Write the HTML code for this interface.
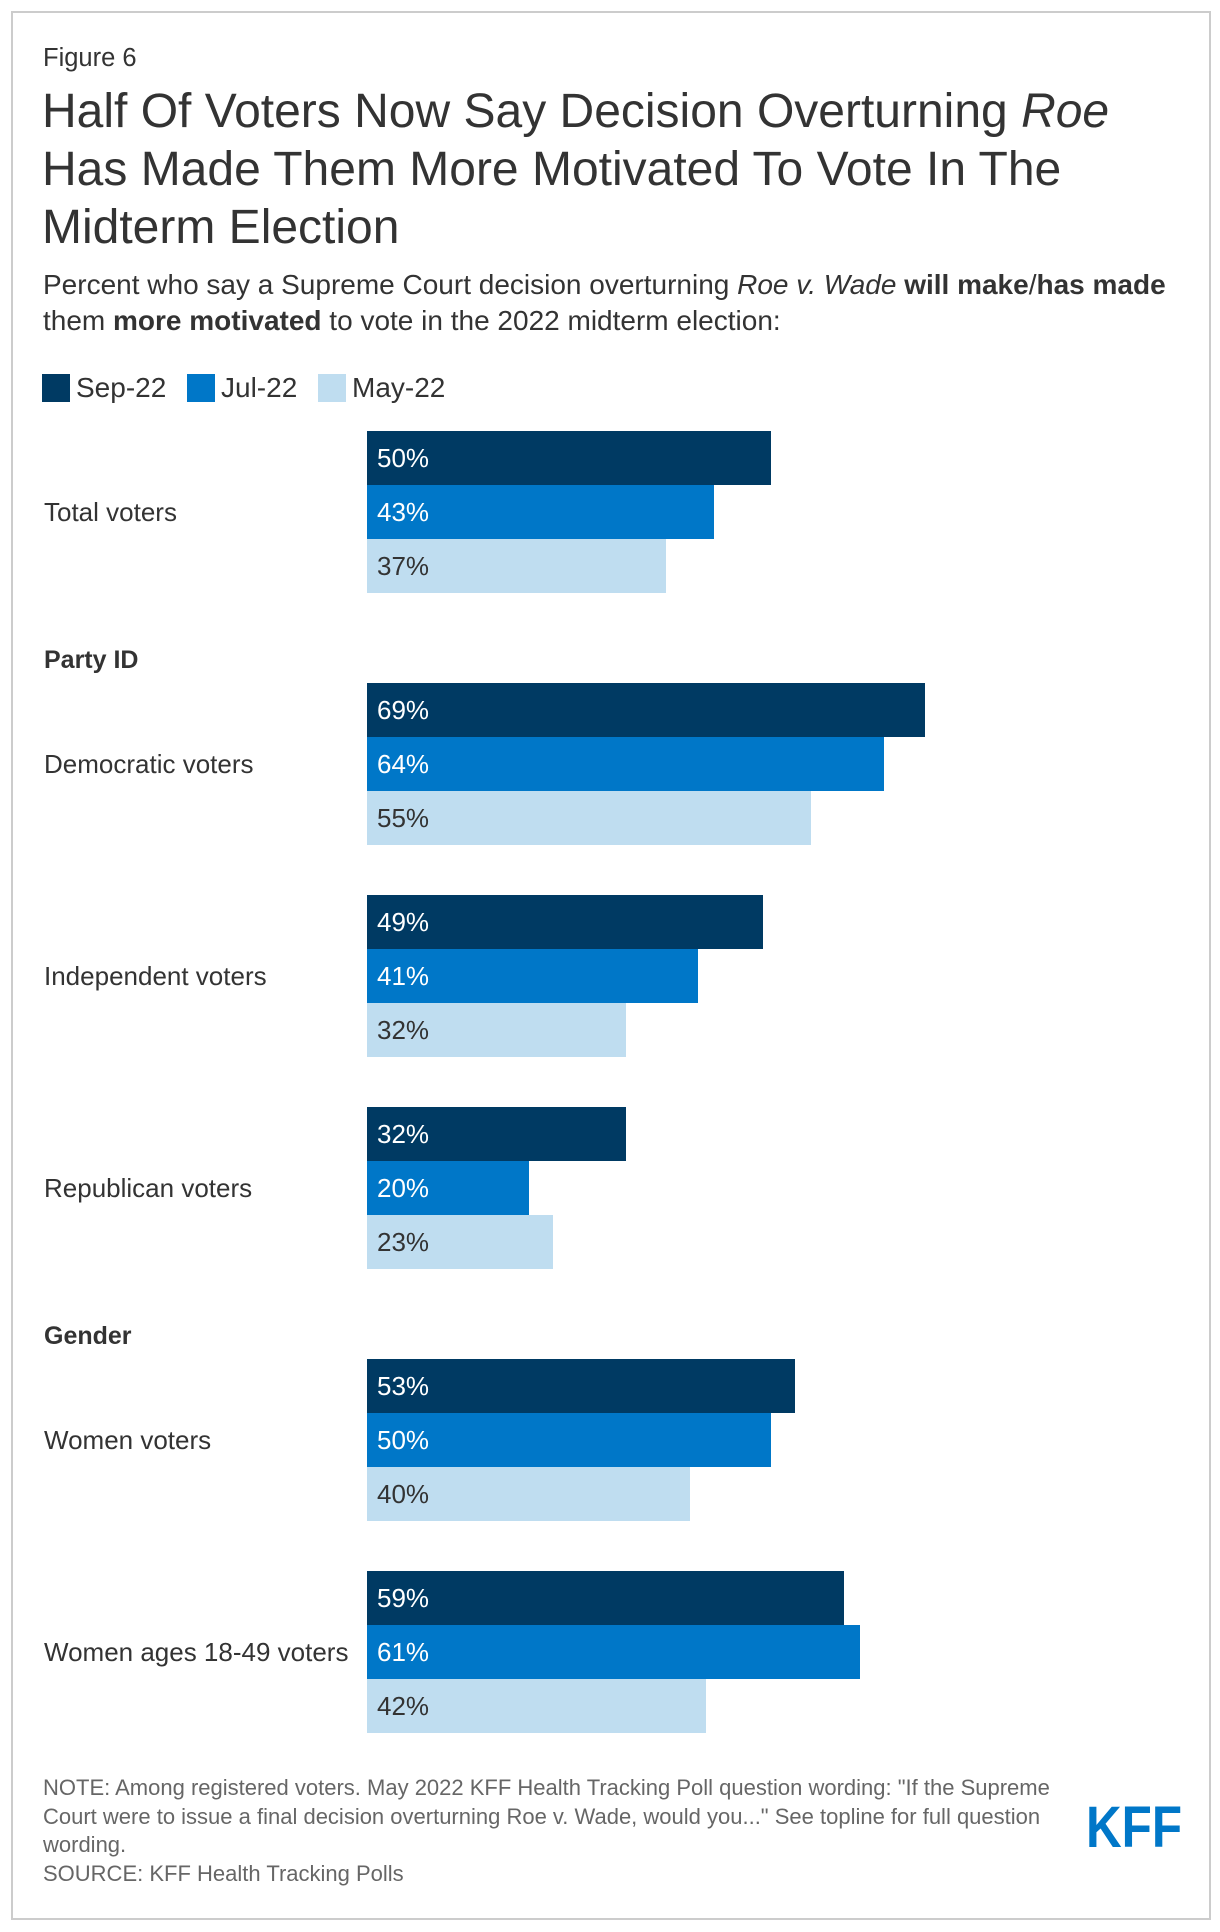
<!DOCTYPE html>
<html><head><meta charset="utf-8"><style>
body{margin:0;background:#fff;font-family:"Liberation Sans",Arial,sans-serif;color:#333;}
#frame{position:absolute;left:11px;top:11px;width:1196px;height:1905px;border:2px solid #ccc;}
.abs{position:absolute;white-space:nowrap;}
</style></head><body>
<div id="frame"></div>
<div class="abs" style="left:43px;top:44px;font-size:25.5px;">Figure 6</div>
<div class="abs" style="left:42px;top:83px;font-size:48px;line-height:58px;">Half Of Voters Now Say Decision Overturning <i>Roe</i><br>Has Made Them More Motivated To Vote In The<br>Midterm Election</div>
<div class="abs" style="left:43px;top:267px;font-size:28px;line-height:36px;">Percent who say a Supreme Court decision overturning <i>Roe v. Wade</i> <b>will make</b>/<b>has made</b><br>them <b>more motivated</b> to vote in the 2022 midterm election:</div>
<div>
<div class="abs" style="left:42px;top:374px;height:28px;font-size:28px;line-height:28px;"><span style="display:inline-block;width:28px;height:28px;background:#003a63;vertical-align:top;margin-right:6px;"></span>Sep-22</div>
<div class="abs" style="left:187px;top:374px;height:28px;font-size:28px;line-height:28px;"><span style="display:inline-block;width:28px;height:28px;background:#0077c8;vertical-align:top;margin-right:6px;"></span>Jul-22</div>
<div class="abs" style="left:318px;top:374px;height:28px;font-size:28px;line-height:28px;"><span style="display:inline-block;width:28px;height:28px;background:#bfddf0;vertical-align:top;margin-right:6px;"></span>May-22</div>
</div>
<div id="chart"></div>
<div class="abs" style="left:43px;top:1774px;font-size:22px;line-height:28.5px;color:#666;">NOTE: Among registered voters. May 2022 KFF Health Tracking Poll question wording: "If the Supreme<br>Court were to issue a final decision overturning Roe v. Wade, would you..." See topline for full question<br>wording.<br>SOURCE: KFF Health Tracking Polls</div>
<svg class="abs" style="left:1085px;top:1802px;" width="100" height="48"><text x="1" y="45" font-family="Liberation Sans, sans-serif" font-weight="bold" font-size="58" fill="#0077c8" textLength="96" lengthAdjust="spacingAndGlyphs">KFF</text></svg>
<script>
const categories=["Total voters","Democratic voters","Independent voters","Republican voters","Women voters","Women ages 18-49 voters"];
const sep22=[50,69,49,32,53,59];
const jul22=[43,64,41,20,50,61];
const may22=[37,55,32,23,40,42];
const headers=[null,"Party ID",null,null,"Gender",null];
const series=[sep22,jul22,may22];
const colors=["#003a63","#0077c8","#bfddf0"];
const textColors=["#fff","#fff","#333"];
const seriesNames=["sep-22","jul-22","may-22"];
const x0=367,pxPer=8.08,barH=54;
function xScale(v){return v*pxPer;}
const chart=document.getElementById('chart');
let y=431;
categories.forEach((c,i)=>{
  if(headers[i]){
    y+=40;
    const h=document.createElement('div');
    h.className='abs';
    
    
    h.style.cssText=`left:44px;top:${y-38}px;font-size:25px;font-weight:bold;line-height:30px;`;
    h.textContent=headers[i];
    chart.appendChild(h);
  }
  const l=document.createElement('div');
  l.className='abs';
  
  
  l.style.cssText=`left:44px;top:${y+barH*1.5-15}px;font-size:26px;line-height:30px;`;
  l.textContent=c;
  chart.appendChild(l);
  series.forEach((s,k)=>{
    const b=document.createElement('div');
    b.className='abs';
    
    
    b.style.cssText=`left:${x0}px;top:${y+k*barH}px;width:${xScale(s[i])}px;height:${barH}px;background:${colors[k]};`;
    chart.appendChild(b);
    const t=document.createElement('div');
    t.className='abs';
    
    
    t.style.cssText=`left:${x0+10}px;top:${y+k*barH}px;height:${barH}px;line-height:${barH}px;font-size:26px;color:${textColors[k]};`;
    t.textContent=s[i]+'%';
    chart.appendChild(t);
  });
  y+=212;
});
</script>
</body></html>
